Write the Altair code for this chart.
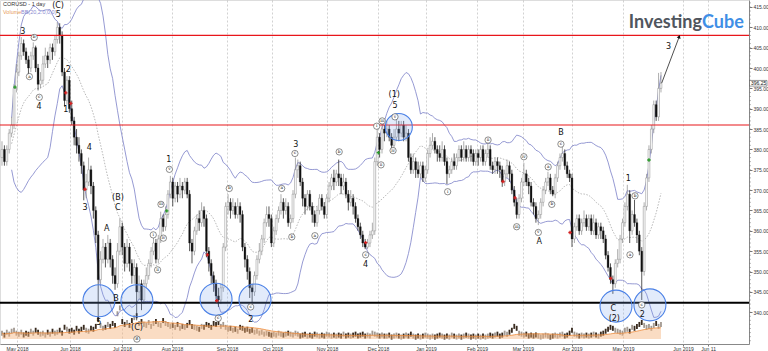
import altair as alt
import pandas as pd

# ---------------- data (CORUSD daily) ----------------
FIRST_OPEN = 378
C = [380,377,380,384,386,395,399,403,406,404,
     402,400,403,405,400,396,397,401,403,402,
     405,404,407,410,408,399,392,397,390,387,
     383,381,379,376,370,372,375,371,365,359,
     348,353,356,353,357,353,349,347,355,361,
     356,352,356,352,349,351,345,347,343,347,
     349,352,355,357,353,358,363,361,364,369,
     372,368,371,369,371,370,372,369,357,355,
     360,363,362,365,363,355,352,349,347,344,
     343,346,356,366,367,365,366,364,366,364,
     356,353,350,346,345,349,353,355,358,362,
     364,363,357,360,363,365,367,365,366,362,
     363,369,375,376,372,368,366,369,366,364,
     362,365,368,366,364,368,371,373,372,374,
     373,371,372,369,367,368,366,363,361,359,
     357,356,357,359,360,377,383,380,385,384,
     385,383,381,383,385,384,386,383,384,378,
     375,377,375,374,376,373,375,379,381,382,
     380,379,378,380,377,374,375,377,376,378,
     380,378,380,378,380,379,377,379,378,380,
     377,379,380,376,375,377,376,375,372,374,
     376,374,370,367,364,368,372,374,372,371,
     367,366,363,364,367,370,372,373,370,369,
     373,376,378,379,376,374,373,358,361,363,
     360,362,363,361,363,360,362,359,361,360,
     358,354,351,348,347,352,353,358,362,366,
     369,360,364,362,359,355,350,366,373,380,
     385,391,388,395,396.25]
H = [382,381,381,385,388,396,401,404,407.6,407,
     405,403,404,406.3,405.5,401,399,403,405,404,
     406,406,408,411.3,411,409,400,398,398,392,
     388,385,383,380,377,374,378,376,372,366,
     360,355,358,357,359,358,354,351,357,363,
     362,357,358,357,353,353,352,349,348,348,
     351,353,356,358.5,358,359,364.7,364,366,370,
     373.5,373,372,372,373,372,373,373,370,358,
     361,364,365,367,366,364,356,353,350,348,
     346,347,357,367,369,368,368,367,368,367,
     365,357,354,351,347,350,354,357,359,363,
     366,366,364,361,364,366,369,368,368,367,
     364,370,378,377.5,377,373,369,370,370,367,
     365,366,369,369,367,369,372,374,375,375,
     377.5,374,374,373,370,370,369,367,364,362,
     360,358,358,360,362,378,385,384,386.5,386,
     387,386,384,385,388,387,387,387,386,385,
     379,379,378,377,377,377,376,380,383,384,
     383,381,381,382,381,378,376,378,379,379,
     381,381,382,381,381,381,380,380,380,381,
     381,380,381.6,381,377,378,378,377,376,375,
     377.5,377,375,371,368,369,373,376.7,375,373,
     372,368,367,365,368,371,373,374.5,374,371,
     374,377,379,380.6,380,377,375,374,362,364,
     364,363,365,364,364,364,364,363,362,362,
     361,359,355,352,349,353,355.5,359,363,367,
     371.3,370,365,367.6,363,360,356,367,374,381,
     386,392,392,398.8,399]
L = [376,376,376,379,383,385,394,398,402,403,
     401,398.5,399,402,399,394.5,395,396,400,400,
     401,402,403,406,406,398,390.5,391,389,386,
     381,379,377,374,367.5,368,371,369,363,357,
     338.5,347,352,351,352,351,347,345.5,346,354,
     354,350,351,350,347,347,338,343,340.5,342,
     346,348,351,354,352,352,357,359.8,360,363,
     368,366,367,367,368,368,369,368,355,352,
     354,359,360,361,361,353.5,350,347,345,342.5,
     341.3,342,345,355,364,363,364,363,363,362,
     355,351,348,343.5,342.5,344,348,352,354,357,
     361,361,356,356,359,362,364,363,364,361,
     360.5,362,368,373,371,366,364,365,365,362,
     361,361,364,365,363,363,367,370,370,371,
     371,369,370,368,365,366,364,362,360,358,
     356,355.5,355.5,356,358,359,376,378,379,382,
     383,382,380,380,382,382,383,382,382,377,
     374,374,373,373,373,372,372,374,378,380,
     379,377,377,377,376,371.5,373,374,375,375,
     377,377,377,377,377,377,376,376,376,377,
     376,376,378,375,374,374,374,373,370.8,371,
     373,372,369,366,363,363,367,371,371,369,
     366,364,362,361.4,363,366,369,371,369,368.5,
     368,372,375,377,375,373,372,356,357,360,
     359,359,361,360,360,359,359,358,358,358,
     357,353,350,347,344.5,346,351,352,357,361,
     365,357,359,361,357,354,343,349,365,372,
     379,384,387,387,394]
V = [6,4,7,5,8,9,6,5,7,4,6,5,8,6,9,7,5,6,4,7,
     5,8,6,7,9,6,12,10,8,9,7,11,8,10,12,9,8,11,10,13,
     20,14,11,12,15,13,16,14,26,32,18,15,17,14,19,22,24,16,18,15,
     14,17,13,16,18,15,14,19,16,15,13,14,12,15,11,13,12,14,17,13,
     12,11,10,13,12,15,14,12,16,15,17,13,15,12,10,11,9,10,8,12,
     11,9,10,8,9,7,8,6,7,5,6,5,4,5,4,6,5,4,5,6,
     5,4,6,5,3,4,5,3,4,3,5,4,3,4,3,5,4,3,4,3,
     4,3,5,3,4,3,4,5,3,4,5,3,4,3,6,5,4,3,4,3,
     3,4,2,3,4,3,2,3,4,3,5,3,2,3,2,3,4,3,2,3,
     2,3,4,3,2,3,2,4,3,2,3,2,3,4,3,2,3,2,3,2,
     3,2,3,4,3,4,5,3,4,6,5,7,9,13,11,6,5,4,5,3,
     4,3,4,3,2,3,4,3,2,3,4,3,4,5,3,4,6,9,5,4,
     3,4,3,4,3,4,5,4,3,5,6,8,10,12,11,9,8,7,6,9,
     10,8,12,11,13,15,17,14,12,13,11,14,16,13,15]

tick_idx = [6.24, 28.27, 49.9, 70.69, 93.56, 112.47, 135.14, 156.34,
            176.3, 197.5, 216.6, 237.0, 258.2, 283.2, 293.6]
tick_lab = ["May 2018", "Jun 2018", "Jul 2018", "Aug 2018", "Sep 2018",
            "Oct 2018", "Nov 2018", "Dec 2018", "Jan 2019", "Feb 2019",
            "Mar 2019", "Apr 2019", "May 2019", "Jun 2019", "Jun 11"]
price_ticks = list(range(340, 416, 5))

red_levels = [408.0, 386.0]
black_levels = [342.3]

lab_t = ["3", "4", "5", "(C)", "1", "2", "3", "4", "A", "B", "(B)", "C", "5", "(C)",
         "1", "2", "3", "4", "(1)", "5", "A", "B", "C", "(2)", "1", "2", "3"]
lab_i = [8.6, 15.4, 23.4, 23.3, 26.5, 27.6, 34.5, 36.3, 43.5, 47.4, 48.2, 48.2, 40.3, 56.1,
         69.4, 103.4, 122.2, 151.2, 163.1, 163.4, 223.4, 232.4, 254.2, 254.6, 260.4, 266.2, 277.2]
lab_v = [408.9, 390.4, 413.0, 415.2, 389.7, 399.5, 365.6, 380.4, 360.4, 343.2, 368.1, 365.5, 337.4, 336.1,
         377.4, 338.0, 381.1, 351.6, 393.4, 390.7, 357.3, 384.0, 340.7, 338.3, 372.7, 339.3, 405.2]

cl_t = ["b", "a", "c", "i", "ii", "iii", "iv", "v", "c", "b", "c", "a", "b", "c", "a", "b", "c",
        "i", "ii", "iii", "iv", "v", "i", "ii", "iii", "iv", "v", "a", "b", "c", "a", "b", "c", "B"]
cl_i = [13.4, 11.4, 15.5, 62.9, 64.7, 66.1, 67.1, 69.6, 89.9, 94.5, 103.4, 116.3, 120.5, 121.8, 130.1, 140.2, 151.2,
        155.8, 157.6, 158.1, 162.6, 163.4, 185.3, 202.1, 214.0, 217.0, 223.0, 227.1, 228.6, 232.4, 261.1, 263.2, 266.0, 56.1]
cl_v = [407.5, 397.9, 392.8, 359.0, 350.4, 366.5, 358.2, 375.1, 338.5, 370.4, 341.3, 370.4, 358.5, 379.0, 358.8, 379.4, 354.1,
        385.7, 376.2, 387.0, 379.7, 388.0, 369.6, 382.3, 361.0, 378.2, 359.6, 375.7, 366.5, 381.3, 354.1, 368.6, 341.8, 333.4]

ring_i = [40.3, 56.1, 89.0, 105.2, 255.3, 269.4, 165.0]
ring_v = [342.8, 342.8, 343.2, 343.0, 341.5, 341.8, 385.5]
ring_s = [1024, 1024, 1024, 1024, 1024, 1024, 729]

red_i = [26.5, 28.6, 34.5, 85.4, 89.3, 151.2, 208.3, 213.3, 236.2, 253.1]
red_v = [393.9, 391.3, 370.2, 354.1, 342.8, 357.1, 372.1, 368.1, 359.6, 348.3]
grn_i = [5.4, 68.5, 156.5, 269.0]
grn_v = [395.3, 364.9, 379.2, 377.4]

arrow_i = [274.3, 281.6]
arrow_v = [396.3, 407.7]

# ---------------- table ----------------
n = min(len(C), len(H), len(L), len(V))
O = [FIRST_OPEN] + C[:n - 1]
df = pd.DataFrame({"i": list(range(n)), "O": O[:n], "H": H[:n], "L": L[:n], "C": C[:n], "V": V[:n]})
df["up"] = (df["C"] >= df["O"]).astype(int)

X = alt.Scale(domain=[-0.83, 310.6], nice=False, zero=False)
Y = alt.Scale(domain=[332.19, 416.71], nice=False, zero=False)
VY = alt.Scale(domain=[0, 344], nice=False, zero=True)

label_expr = " : ".join(f"abs(datum.value - {v}) < 0.01 ? '{t}'" for v, t in zip(tick_idx, tick_lab)) + " : ''"

AX = alt.Axis(values=tick_idx, labelExpr=label_expr, title=None, grid=True,
              gridColor="#b4b4b4", gridDash=[2, 2], gridWidth=0.6,
              labelFontSize=5, labelFont="Liberation Sans", labelColor="#333",
              tickSize=2, tickColor="#777", domainColor="#888",
              labelPadding=0.5, labelOverlap=False, labelFlush=False)
AY = alt.Axis(orient="right", values=price_ticks, format=".2f", title=None,
              grid=False, labelFontSize=5, labelFont="Liberation Sans",
              tickSize=3, labelPadding=1, domainColor="#888",
              tickColor="#777", labelColor="#333",
              labelOverlap=False, labelFlush=False)


def xi(f="i"):
    return alt.X(f + ":Q", scale=X, axis=AX)


def yp(f):
    return alt.Y(f + ":Q", scale=Y, axis=AY)


base = alt.Chart(df)
cbase = base.transform_calculate(x0="datum.i - 0.38", x1="datum.i + 0.38")

axis_layer = base.mark_point(opacity=0).encode(x=xi(), y=yp("C"))

bands = base.transform_window(ma="mean(C)", sd="stdevp(C)", frame=[-19, 0],
                              sort=[alt.SortField("i")]).transform_calculate(
    ub="datum.ma + 2*datum.sd", lb="datum.ma - 2*datum.sd").transform_filter("datum.i >= 4")
upper = bands.mark_line(color="#7b80c8", strokeWidth=0.8, clip=True).encode(x=xi(), y=yp("ub"))
lower = bands.mark_line(color="#7b80c8", strokeWidth=0.8, clip=True).encode(x=xi(), y=yp("lb"))
mid = bands.mark_line(color="#9a9a9a", strokeWidth=0.7, strokeDash=[1.5, 1.5], clip=True).encode(x=xi(), y=yp("ma"))

wick_up = base.transform_filter("datum.up == 1").mark_rule(color="#8a8a8a", strokeWidth=0.7).encode(
    x=xi(), y=yp("L"), y2="H:Q")
wick_dn = base.transform_filter("datum.up == 0").mark_rule(color="#111", strokeWidth=0.7).encode(
    x=xi(), y=yp("L"), y2="H:Q")
body_up = cbase.transform_filter("datum.up == 1").mark_rect(fill="white", stroke="#8a8a8a", strokeWidth=0.5).encode(
    x=xi("x0"), x2="x1:Q", y=yp("O"), y2="C:Q")
body_dn = cbase.transform_filter("datum.up == 0").mark_rect(fill="#111", stroke="#111", strokeWidth=0.3).encode(
    x=xi("x0"), x2="x1:Q", y=yp("O"), y2="C:Q")

red_rules = alt.Chart(pd.DataFrame({"v": red_levels})).mark_rule(color="#e8161b", strokeWidth=1.2).encode(y=yp("v"))
blk_rules = alt.Chart(pd.DataFrame({"v": black_levels})).mark_rule(color="#000", strokeWidth=2).encode(y=yp("v"))

rings = alt.Chart(pd.DataFrame({"i": ring_i, "v": ring_v, "s": ring_s})).mark_point(
    shape="circle", filled=True, fill="#7aa2ee", fillOpacity=0.22, stroke="#4a80e6", strokeWidth=1.1, opacity=1
).encode(x=xi(), y=yp("v"), size=alt.Size("s:Q", scale=None, legend=None))

red_m = alt.Chart(pd.DataFrame({"i": red_i, "v": red_v})).mark_point(
    shape="cross", filled=True, fill="#d42020", size=12, opacity=1).encode(x=xi(), y=yp("v"))
grn_m = alt.Chart(pd.DataFrame({"i": grn_i, "v": grn_v})).mark_point(
    shape="cross", filled=True, fill="#2a9a2a", size=12, opacity=1).encode(x=xi(), y=yp("v"))

labels = alt.Chart(pd.DataFrame({"t": lab_t, "i": lab_i, "v": lab_v})).mark_text(
    fontSize=8, font="DejaVu Sans", color="#111").encode(x=xi(), y=yp("v"), text="t:N")
cl_df = pd.DataFrame({"t": cl_t, "i": cl_i, "v": cl_v})
cl_pts = alt.Chart(cl_df).mark_point(shape="circle", filled=True, fill="white", stroke="#333",
                                     strokeWidth=0.55, size=40, opacity=1).encode(x=xi(), y=yp("v"))
cl_txt = alt.Chart(cl_df).mark_text(fontSize=4.3, font="DejaVu Serif", color="#111").encode(
    x=xi(), y=yp("v"), text="t:N")

adf = pd.DataFrame({"i": arrow_i, "v": arrow_v})
arrow_line = alt.Chart(adf).mark_line(color="#222", strokeWidth=0.8).encode(x=xi(), y=yp("v"))
arrow_head = alt.Chart(adf.tail(1)).mark_point(shape="triangle-up", filled=True, fill="#111", size=16,
                                               angle=21, opacity=1).encode(x=xi(), y=yp("v"))

one = pd.DataFrame({"k": [0]})
logo1 = alt.Chart(one).mark_text(text="Investing", font="Lato", fontWeight="bold", fontSize=18,
                                 color="#50565e", align="right", baseline="alphabetic").encode(
    x=alt.value(702), y=alt.value(28))
logo2 = alt.Chart(one).mark_text(text="Cube", font="Lato", fontWeight="bold", fontSize=18,
                                 color="#3f8fe6", align="left", baseline="alphabetic").encode(
    x=alt.value(702), y=alt.value(28))
title1 = alt.Chart(one).mark_text(text="CORUSD - 1 day", font="Liberation Sans", fontSize=5.5,
                                  color="#333", align="left", baseline="middle").encode(
    x=alt.value(3), y=alt.value(4))
title2 = alt.Chart(one).mark_text(text="Volume", font="Liberation Sans", fontSize=5.5,
                                  color="#e89b5a", align="left", baseline="middle").encode(
    x=alt.value(3), y=alt.value(12))
title3 = alt.Chart(one).mark_text(text="BB(20,2.0,0,0)", font="Liberation Sans", fontSize=5.5,
                                  color="#8a8ad0", align="left", baseline="middle").encode(
    x=alt.value(21), y=alt.value(12))

last = C[n - 1]
tag_df = pd.DataFrame({"a": [last + 0.7], "b": [last - 0.7], "v": [last], "t": [f"{last:.2f}"]})
tag_box = alt.Chart(tag_df).mark_rect(fill="white", stroke="#333", strokeWidth=0.5).encode(
    x=alt.value(749.5), x2=alt.value(767), y=yp("a"), y2="b:Q")
tag_txt = alt.Chart(tag_df).mark_text(font="Liberation Sans", fontSize=5, color="#111", align="left",
                                      baseline="middle").encode(x=alt.value(751), y=yp("v"), text="t:N")

minor = alt.Chart(pd.DataFrame({"v": list(range(333, 417))})).mark_rule(color="#777", strokeWidth=0.5).encode(
    x=alt.value(749), x2=alt.value(751), y=yp("v"))

price = alt.layer(axis_layer, mid, upper, lower, wick_up, wick_dn, body_up, body_dn,
                  red_rules, blk_rules, rings, red_m, grn_m, cl_pts, cl_txt, labels,
                  arrow_line, arrow_head, logo1, logo2, title1, title2, title3,
                  minor, tag_box, tag_txt)

vbase = alt.Chart(df).transform_calculate(x0="datum.i - 0.38", x1="datum.i + 0.38")
vol_up = vbase.transform_filter("datum.up == 1").mark_bar(color="#a39a92").encode(
    x=xi("x0"), x2="x1:Q", y=alt.Y("V:Q", scale=VY, axis=None))
vol_dn = vbase.transform_filter("datum.up == 0").mark_bar(color="#3a2c20").encode(
    x=xi("x0"), x2="x1:Q", y=alt.Y("V:Q", scale=VY, axis=None))
vol_ma = alt.Chart(df).transform_window(vma="mean(V)", frame=[-19, 0], sort=[alt.SortField("i")]).mark_area(
    color="#f3b27a", fillOpacity=0.45, line={"color": "#ee8a3a", "strokeWidth": 0.8}).encode(
    x=xi(), y=alt.Y("vma:Q", scale=VY, axis=None))
vol = alt.layer(vol_up, vol_dn, vol_ma)

chart = alt.layer(vol, price).resolve_scale(y="independent").properties(
    width=749, height=344,
    padding={"left": 0, "top": 0, "right": 19, "bottom": 7},
    autosize=alt.AutoSizeParams(type="none"),
).configure_view(stroke="#999", strokeWidth=0.8).configure(background="white")

chart.save("out.html", embed_options={"renderer": "svg", "actions": False})
